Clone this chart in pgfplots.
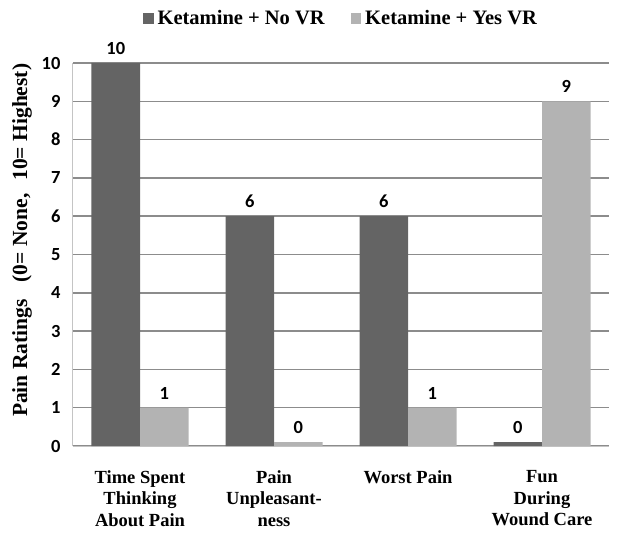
\documentclass[border=0pt]{standalone}
\usepackage{fontspec}
\setmainfont{Liberation Serif}
\newfontfamily\calibri{Carlito}
\usepackage{pgfplots}
\usepackage{pgfplotstable}
\pgfplotsset{compat=1.18}

\definecolor{darkbar}{HTML}{646464}
\definecolor{lightbar}{HTML}{B3B3B3}
\definecolor{gridgray}{HTML}{8C8C8C}
\definecolor{axisgray}{HTML}{C4C4C4}

% zero values are drawn as thin stubs (0.1) but labelled 0
\pgfplotstableread{
x y lab
0 10 10
1 6 6
2 6 6
3 0.1 0
}\novr
\pgfplotstableread{
x y lab
0 1 1
1 0.1 0
2 1 1
3 9 9
}\yesvr

\begin{document}
\begin{tikzpicture}
\begin{axis}[
    name=ax,
    scale only axis,
    width=536pt, height=383pt,
    ybar=0pt, bar width=48.5pt,
    xmin=-0.5, xmax=3.5, ymin=0, ymax=10,
    xtick={0,1,2,3},
    xticklabels={Time Spent\\Thinking\\About Pain, Pain\\Unpleasant-\\ness, Worst Pain, Fun\\During\\Wound Care},
    ytick={0,1,...,10},
    /pgf/number format/assume math mode=true,
    axis x line*=bottom, axis y line*=left,
    x axis line style={axisgray, line width=1pt},
    y axis line style={axisgray, line width=1pt},
    major tick length=0pt,
    ymajorgrids,
    grid style={gridgray, line width=1.5pt},
    xticklabel style={font=\bfseries\fontsize{18.5}{21.5}\selectfont, align=center, anchor=north, yshift=-21pt},
    yticklabel style={font=\calibri\bfseries\fontsize{18.5}{18.5}\selectfont, xshift=-9pt},
    ylabel={Pain Ratings\hspace{17pt}(0= None,\hspace{13pt}10= Highest)},
    ylabel style={font=\bfseries\fontsize{21.5}{21.5}\selectfont, at={(axis description cs:-0.095,0.537)}, anchor=center},
    point meta=explicit symbolic,
    nodes near coords,
    nodes near coords style={font=\calibri\bfseries\fontsize{18.5}{18.5}\selectfont, text=black, yshift=5pt},
    legend columns=2,
    legend style={draw=none, fill=none, font=\bfseries\fontsize{20.5}{22}\selectfont,
        at={(axis description cs:0.5,1.116)}, anchor=center,
        /tikz/every odd column/.append style={column sep=2pt},
        /tikz/every even column/.append style={column sep=24pt}},
    legend image code/.code={\fill[#1] (0pt,-5pt) rectangle (10.5pt,5.5pt);},
]
\addplot[fill=darkbar, draw=none] table[x=x, y=y, meta=lab] {\novr};
\addlegendentry{Ketamine + No VR}
\addplot[fill=lightbar, draw=none] table[x=x, y=y, meta=lab] {\yesvr};
\addlegendentry{Ketamine + Yes VR}
\end{axis}
\pgfresetboundingbox
\path[use as bounding box] ([shift={(-73pt,-87pt)}]ax.south west) rectangle ([shift={(12pt,63pt)}]ax.north east);
\end{tikzpicture}
\end{document}
